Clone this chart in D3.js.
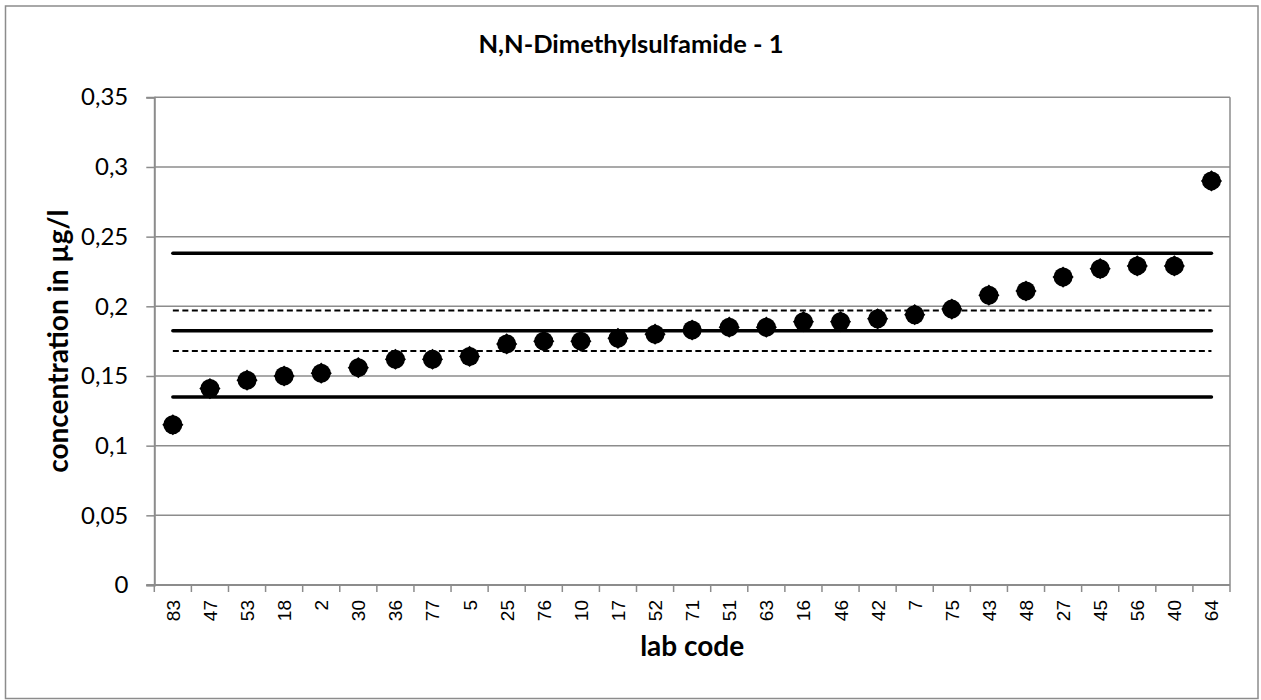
<!DOCTYPE html>
<html>
<head>
<meta charset="utf-8">
<script src="https://cdn.jsdelivr.net/npm/d3@7"></script>
<style>
  body { margin: 0; background: #fff; }
  svg { display: block; }
</style>
</head>
<body>
<div id="chart"></div>
<script>
// Lab codes in plotted order and their reported concentrations (µg/l)
const labCodes = ["83","47","53","18","2","30","36","77","5","25","76","10","17","52","71",
                  "51","63","16","46","42","7","75","43","48","27","45","56","40","64"];
const concentrations = [0.115,0.141,0.147,0.150,0.152,0.156,0.162,0.162,0.164,0.173,0.175,0.175,0.177,0.180,0.183,
                        0.185,0.185,0.189,0.189,0.191,0.194,0.198,0.208,0.211,0.221,0.227,0.229,0.229,0.290];

// Reference lines: assigned value, tolerance limits, uncertainty band
const solidLines = [0.238, 0.1825, 0.135];
const dashedLines = [0.197, 0.168];

const yTicks = [0, 0.05, 0.1, 0.15, 0.2, 0.25, 0.3, 0.35];

const W = 1261, H = 700;
const margin = {top: 97.3, right: 31, bottom: 115, left: 154.3};
const width = W - margin.left - margin.right;
const height = H - margin.top - margin.bottom;

const svg = d3.select("#chart").append("svg")
  .attr("width", W)
  .attr("height", H);

// Outer chart frame
svg.append("rect")
  .attr("x", 5.5).attr("y", 6)
  .attr("width", 1252.5).attr("height", 692.5)
  .attr("fill", "#fff")
  .attr("stroke", "#8c8c8c")
  .attr("stroke-width", 1.5);

const g = svg.append("g")
  .attr("transform", `translate(${margin.left},${margin.top})`);

const x = d3.scaleBand().domain(labCodes).range([0, width]);
const y = d3.scaleLinear().domain([0, 0.35]).range([height, 0]);
const cx = d => x(d) + x.bandwidth() / 2;

const grey = "#8c8c8c";
const calibri = "Lato, 'Open Sans', sans-serif";

// Horizontal gridlines
g.append("g")
  .selectAll("line")
  .data(yTicks)
  .join("line")
    .attr("x1", 0).attr("x2", width)
    .attr("y1", d => y(d)).attr("y2", d => y(d))
    .attr("stroke", grey)
    .attr("stroke-width", 1.5);

// Right border of plot area
g.append("line")
  .attr("x1", width).attr("x2", width)
  .attr("y1", 0).attr("y2", height)
  .attr("stroke", grey).attr("stroke-width", 1.5);

// Y axis
const yAxis = g.append("g")
  .call(d3.axisLeft(y).tickValues(yTicks).tickSize(8).tickPadding(18)
    .tickFormat(d => String(d).replace(".", ",")));
yAxis.select(".domain").attr("stroke", grey).attr("stroke-width", 2);
yAxis.selectAll(".tick line").attr("stroke", grey).attr("stroke-width", 1.5);
yAxis.selectAll("text")
  .attr("fill", "#000")
  .style("font-family", calibri)
  .style("font-size", "24px");

// X axis: ticks at band boundaries
const xAxis = g.append("g")
  .attr("transform", `translate(0,${height})`);
xAxis.append("line")
  .attr("x1", -8).attr("x2", width)
  .attr("stroke", grey).attr("stroke-width", 2);
xAxis.selectAll(".bt")
  .data(d3.range(labCodes.length + 1))
  .join("line")
    .attr("class", "bt")
    .attr("x1", i => i * x.step()).attr("x2", i => i * x.step())
    .attr("y1", 0).attr("y2", 7)
    .attr("stroke", grey).attr("stroke-width", 1.5);
xAxis.selectAll(".lbl")
  .data(labCodes)
  .join("text")
    .attr("class", "lbl")
    .attr("transform", d => `translate(${cx(d) + 7},15) rotate(-90)`)
    .attr("text-anchor", "end")
    .style("font-family", "'Liberation Sans', Arial, sans-serif")
    .style("font-size", "19px")
    .text(d => d);

// Reference lines
g.selectAll(".solid")
  .data(solidLines)
  .join("line")
    .attr("class", "solid")
    .attr("x1", cx(labCodes[0])).attr("x2", cx(labCodes[labCodes.length - 1]))
    .attr("y1", d => y(d)).attr("y2", d => y(d))
    .attr("stroke", "#000")
    .attr("stroke-width", 3.5)
    .attr("stroke-linecap", "round");

g.selectAll(".dashed")
  .data(dashedLines)
  .join("line")
    .attr("class", "dashed")
    .attr("x1", cx(labCodes[0])).attr("x2", cx(labCodes[labCodes.length - 1]))
    .attr("y1", d => y(d)).attr("y2", d => y(d))
    .attr("stroke", "#000")
    .attr("stroke-width", 2)
    .attr("stroke-dasharray", "6,3.5");

// Data points
const pts = g.selectAll(".pt")
  .data(labCodes.map((c, i) => ({code: c, value: concentrations[i]})))
  .join("g")
    .attr("class", "pt")
    .attr("transform", d => `translate(${cx(d.code)},${y(d.value)})`);
pts.append("circle").attr("r", 9.5).attr("fill", "#000");
pts.append("path")
  .attr("d", d3.symbol(d3.symbolSquare, 225)())
  .attr("transform", "rotate(45)")
  .attr("fill", "#000");

// Title, centred on the whole chart area
svg.append("text")
  .attr("x", 631)
  .attr("y", 53)
  .attr("text-anchor", "middle")
  .style("font-family", calibri)
  .style("font-weight", "bold")
  .style("font-size", "25.5px")
  .text("N,N-Dimethylsulfamide - 1");

// Axis titles
svg.append("text")
  .attr("x", margin.left + width / 2)
  .attr("y", 656)
  .attr("text-anchor", "middle")
  .style("font-family", calibri)
  .style("font-weight", "bold")
  .style("font-size", "28px")
  .text("lab code");

svg.append("text")
  .attr("transform", `translate(68,${margin.top + height / 2}) rotate(-90)`)
  .attr("text-anchor", "middle")
  .style("font-family", calibri)
  .style("font-weight", "bold")
  .style("font-size", "28px")
  .text("concentration in µg/l");
</script>
</body>
</html>
